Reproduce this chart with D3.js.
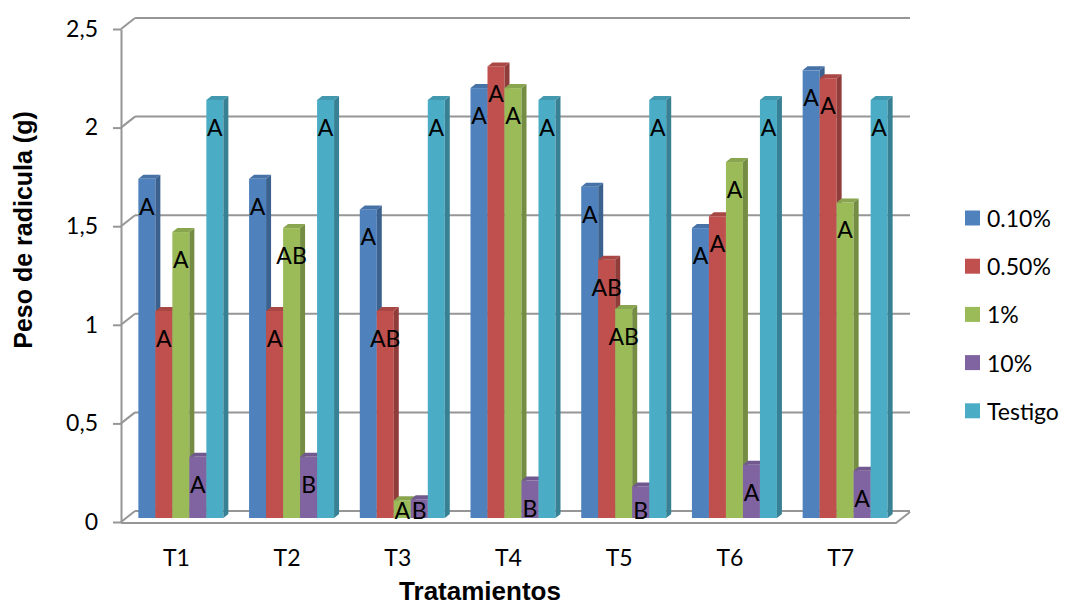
<!DOCTYPE html>
<meta charset="utf-8" />
<script src="https://d3js.org/d3.v7.min.js"></script>
<style>
  body { margin: 0; background: #fff; }
</style>
<div id="chart"></div>
<script>
  // data
  const categories = ["T1", "T2", "T3", "T4", "T5", "T6", "T7"];
  const seriesNames = ["0.10%", "0.50%", "1%", "10%", "Testigo"];
  const vals010 = [1.72, 1.72, 1.565, 2.18, 1.68, 1.47, 2.27];
  const vals050 = [1.05, 1.05, 1.05, 2.29, 1.31, 1.53, 2.23];
  const vals1 = [1.45, 1.47, 0.09, 2.18, 1.06, 1.805, 1.6];
  const vals10 = [0.31, 0.31, 0.095, 0.19, 0.16, 0.27, 0.24];
  const valsTestigo = [2.12, 2.12, 2.12, 2.12, 2.12, 2.12, 2.12];
  const let010 = ["A", "A", "A", "A", "A", "A", "A"];
  const let050 = ["A", "A", "AB", "A", "AB", "A", "A"];
  const let1 = ["A", "AB", "A", "A", "AB", "A", "A"];
  const let10 = ["A", "B", "B", "B", "B", "A", "A"];
  const letTestigo = ["A", "A", "A", "A", "A", "A", "A"];
  const yTicks = [0, 0.5, 1, 1.5, 2, 2.5];

  const colors = ["#4F81BD", "#C0504D", "#9BBB59", "#8064A2", "#4BACC6"];
  const allVals = [vals010, vals050, vals1, vals10, valsTestigo];
  const allLetters = [let010, let050, let1, let10, letTestigo];

  const W = 1065, H = 605;
  // front plane of the 3d box and depth offsets
  const left = 121, right = 896;
  const back = { dx: 14, dy: -11 };
  const mid = { dx: 7, dy: -4 };
  const barDepth = { dx: 5, dy: -4 };
  const gridColor = "#969696";
  const calibri = "Lato, 'Open Sans', sans-serif";
  const fs = 23;

  const svg = d3.select("#chart").append("svg")
    .attr("width", W)
    .attr("height", H);

  const y = d3.scaleLinear().domain([0, 2.5]).range([522, 29]);
  const x = d3.scaleBand().domain(categories).range([left, right]);
  const barW = 17;
  const inner = d3.scaleBand().domain(seriesNames)
    .range([0, barW * seriesNames.length]);

  // back wall gridlines + left wall diagonals
  const walls = svg.append("g");
  yTicks.forEach(function (t) {
    walls.append("line")
      .attr("x1", left + back.dx).attr("x2", right + back.dx)
      .attr("y1", y(t) + back.dy).attr("y2", y(t) + back.dy)
      .attr("stroke", gridColor).attr("stroke-width", 2);
    walls.append("line")
      .attr("x1", left).attr("x2", left + back.dx)
      .attr("y1", y(t)).attr("y2", y(t) + back.dy)
      .attr("stroke", gridColor).attr("stroke-width", 2);
  });

  // floor front edge
  walls.append("path")
    .attr("d", `M${left},${y(0) + 1}H${right}L${right + back.dx},${y(0) + 1 + back.dy}`)
    .attr("fill", "none")
    .attr("stroke", gridColor).attr("stroke-width", 2);

  // y axis
  const yAxis = svg.append("g")
    .attr("transform", `translate(${left},0)`)
    .call(d3.axisLeft(y).tickValues(yTicks).tickSize(8).tickSizeOuter(0).tickPadding(15)
      .tickFormat(function (d) { return String(d).replace(".", ","); }));
  yAxis.select(".domain").attr("stroke", gridColor).attr("stroke-width", 2);
  yAxis.selectAll(".tick line").attr("stroke", gridColor).attr("stroke-width", 2);
  yAxis.selectAll(".tick text")
    .attr("font-family", calibri).attr("font-size", fs).attr("fill", "#000");

  // bars
  const bars = svg.append("g");
  categories.forEach(function (cat, ci) {
    const groupW = barW * seriesNames.length + barDepth.dx;
    const x0 = x(cat) + mid.dx + (x.bandwidth() - groupW) / 2;
    seriesNames.forEach(function (s, si) {
      const v = allVals[si][ci];
      const bx = x0 + inner(s);
      const yb = y(0) + mid.dy;
      const yt = y(v) + mid.dy;
      const c = d3.color(colors[si]);
      // front face
      bars.append("rect")
        .attr("x", bx).attr("y", yt)
        .attr("width", barW).attr("height", yb - yt)
        .attr("fill", c.formatHex());
      // side face
      bars.append("path")
        .attr("d", `M${bx + barW},${yt}l${barDepth.dx},${barDepth.dy}V${yb + barDepth.dy}l${-barDepth.dx},${-barDepth.dy}Z`)
        .attr("fill", c.darker(0.8).formatHex());
      // top face
      bars.append("path")
        .attr("d", `M${bx},${yt}l${barDepth.dx},${barDepth.dy}h${barW}l${-barDepth.dx},${-barDepth.dy}Z`)
        .attr("fill", c.darker(0.35).formatHex());
    });
  });

  // significance letters
  const labels = svg.append("g");
  categories.forEach(function (cat, ci) {
    const groupW = barW * seriesNames.length + barDepth.dx;
    const x0 = x(cat) + mid.dx + (x.bandwidth() - groupW) / 2;
    seriesNames.forEach(function (s, si) {
      const v = allVals[si][ci];
      const ty = Math.min(y(v) + mid.dy + 27, y(0) - 12);
      labels.append("text")
        .attr("x", x0 + inner(s) + barW / 2)
        .attr("y", ty)
        .attr("text-anchor", "middle")
        .attr("dominant-baseline", "central")
        .attr("font-family", calibri).attr("font-size", fs)
        .attr("fill", "#000")
        .text(allLetters[si][ci]);
    });
  });

  // category labels
  svg.append("g").selectAll("text")
    .data(categories)
    .join("text")
    .attr("x", function (d) { return x(d) + x.bandwidth() / 2; })
    .attr("y", 557)
    .attr("text-anchor", "middle")
    .attr("dominant-baseline", "central")
    .attr("font-family", calibri).attr("font-size", fs)
    .attr("fill", "#000")
    .text(function (d) { return d; });

  // axis titles
  svg.append("text")
    .attr("transform", "translate(32,230) rotate(-90)")
    .attr("text-anchor", "middle")
    .attr("font-family", "'Liberation Sans', Arial, sans-serif")
    .attr("font-weight", "bold").attr("font-size", 25)
    .text("Peso de radicula (g)");

  svg.append("text")
    .attr("x", 480).attr("y", 600)
    .attr("text-anchor", "middle")
    .attr("font-family", "'Liberation Sans', Arial, sans-serif")
    .attr("font-weight", "bold").attr("font-size", 26)
    .text("Tratamientos");

  // legend
  const legend = svg.append("g");
  seriesNames.forEach(function (s, i) {
    const ly = 218 + i * 48.2;
    legend.append("rect")
      .attr("x", 965).attr("y", ly - 7.5)
      .attr("width", 15).attr("height", 15)
      .attr("fill", colors[i]);
    legend.append("text")
      .attr("x", 987).attr("y", ly)
      .attr("dominant-baseline", "central")
      .attr("font-family", calibri).attr("font-size", fs)
      .attr("fill", "#000")
      .text(s);
  });
</script>
